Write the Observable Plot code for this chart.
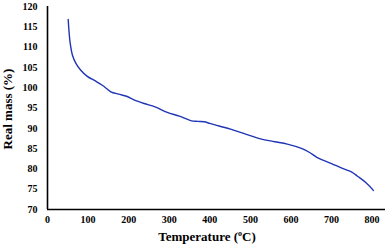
<!DOCTYPE html>
<html>
<head>
<meta charset="utf-8">
<script src="https://cdn.jsdelivr.net/npm/d3@7"></script>
<script src="https://cdn.jsdelivr.net/npm/@observablehq/plot@0.6"></script>
<style>
  html, body { margin: 0; padding: 0; background: #fff; }
  #chart svg { display: block; }
</style>
</head>
<body>
<div id="chart"></div>
<script>
const temperature = [51, 53.5, 56, 61.5, 70, 82, 98, 119, 135, 148, 156, 175, 195, 213, 238, 265, 295, 325, 353, 370, 386, 400, 425, 451, 490, 525, 560, 591, 624, 645, 665, 700, 730, 750, 764, 785, 803];
const realMass    = [116.8, 113.3, 110.9, 108, 106, 104.3, 102.8, 101.6, 100.6, 99.6, 99.0, 98.4, 97.9, 97.0, 96.1, 95.3, 93.9, 93.0, 91.9, 91.7, 91.6, 91.2, 90.5, 89.8, 88.5, 87.4, 86.7, 86.1, 85.1, 84.1, 82.8, 81.3, 80.0, 79.2, 78.2, 76.6, 74.7];
const xTicks = [0, 100, 200, 300, 400, 500, 600, 700, 800];
const yTicks = [70, 75, 80, 85, 90, 95, 100, 105, 110, 115, 120];
const xTitle = "Temperature (";
const xTitleSup = "o";
const xTitleEnd = "C)";
const yTitle = "Real mass (%)";

const data = temperature.map((t, i) => ({t, m: realMass[i]}));
const font = "'Liberation Serif', 'Times New Roman', serif";

const chart = Plot.plot({
  width: 387,
  height: 250,
  marginLeft: 47,
  marginRight: 2,
  marginTop: 6,
  marginBottom: 41,
  style: {fontFamily: font, fontSize: "10px", fontWeight: "bold", color: "#000", background: "#fff"},
  x: {domain: [0, 833], ticks: xTicks, tickSize: 0, tickPadding: 6, label: null},
  y: {domain: [70, 120], ticks: yTicks, tickSize: 0, tickPadding: 10, label: null},
  marks: [
    Plot.line(data, {x: "t", y: "m", stroke: "#1f35b5", strokeWidth: 1.4, curve: "catmull-rom"}),
    Plot.ruleX([0], {stroke: "#000", strokeWidth: 1.6}),
    Plot.ruleY([70], {stroke: "#000", strokeWidth: 1.6})
  ]
});
document.getElementById("chart").appendChild(chart);

const svg = d3.select(chart);
svg.append("text")
  .attr("x", 207).attr("y", 241)
  .attr("text-anchor", "middle")
  .attr("font-family", font).attr("font-size", 13).attr("font-weight", "bold")
  .call(t => {
    t.append("tspan").text(xTitle);
    t.append("tspan").attr("font-size", 8).attr("dy", -5).text(xTitleSup);
    t.append("tspan").attr("dy", 5).text(xTitleEnd);
  });
svg.append("text")
  .attr("transform", "translate(12,109) rotate(-90)")
  .attr("text-anchor", "middle")
  .attr("font-family", font).attr("font-size", 13).attr("font-weight", "bold")
  .text(yTitle);
</script>
</body>
</html>
